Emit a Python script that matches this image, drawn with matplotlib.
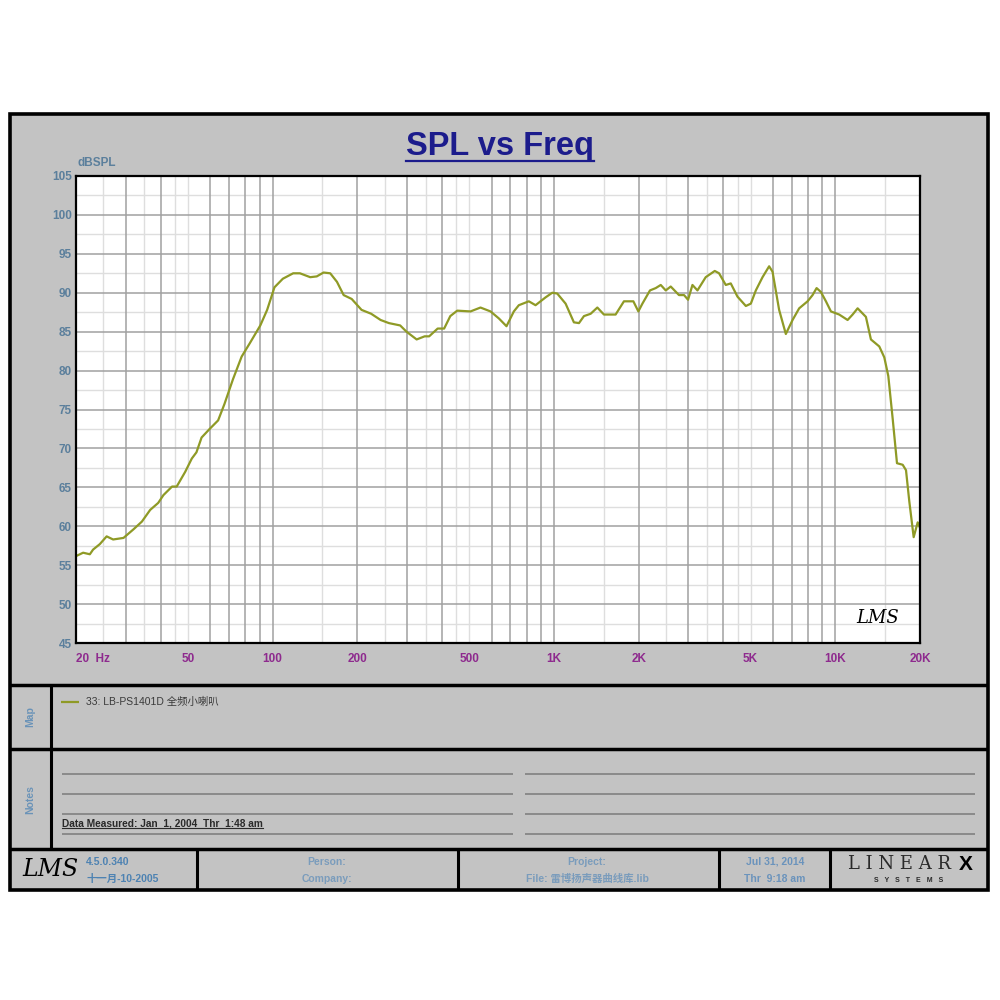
import matplotlib
matplotlib.use('Agg')
import matplotlib.pyplot as plt
from matplotlib.patches import Rectangle
from matplotlib.lines import Line2D

# ---------------- data ----------------
freq_hz = [20.1, 21.2, 22.4, 23.0, 24.3, 25.7, 27.1, 29.5, 32.0, 34.3, 36.7, 39.2, 40.9,
           43.9, 45.6, 48.9, 51.6, 53.6, 55.9, 59.7, 64.0, 67.4, 72.3, 77.6, 82.9, 90.4,
           95.6, 101.5, 108.7, 118.3, 125, 136, 143.5, 151.7, 160.2, 169.3, 178.8, 191,
           207, 224, 242, 259, 284, 299, 325, 347, 360, 386, 407, 428, 453, 505, 548,
           595, 637, 678, 720, 750, 814, 860, 933, 986, 1027, 1100, 1177, 1227, 1278,
           1350, 1426, 1505, 1656, 1773, 1915, 1995, 2062, 2194, 2300, 2396, 2496, 2600,
           2782, 2900, 2996, 3106, 3236, 3462, 3728, 3862, 4080, 4250, 4490, 4808, 5008,
           5218, 5512, 5818, 5982, 6314, 6670, 7048, 7440, 7970, 8302, 8580, 8888, 9260,
           9648, 10324, 11058, 11522, 12004, 12846, 13384, 14332, 14932, 15430, 15994,
           16566, 17358, 17836, 18322, 18990, 19626, 20000]
spl_db = [56.2, 56.6, 56.4, 57.0, 57.7, 58.7, 58.3, 58.5, 59.6, 60.6, 62.1, 63.0, 64.0,
          65.1, 65.1, 67.0, 68.7, 69.5, 71.4, 72.5, 73.6, 75.7, 78.9, 81.8, 83.5, 85.8,
          87.8, 90.7, 91.8, 92.5, 92.5, 92.0, 92.1, 92.6, 92.5, 91.4, 89.7, 89.2,
          87.8, 87.3, 86.5, 86.1, 85.8, 85.0, 84.0, 84.4, 84.4, 85.4, 85.4, 87.0, 87.7,
          87.6, 88.1, 87.6, 86.7, 85.7, 87.6, 88.4, 88.9, 88.4, 89.4, 90.0, 89.9, 88.6,
          86.2, 86.1, 87.0, 87.3, 88.1, 87.2, 87.2, 88.9, 88.9, 87.6, 88.6, 90.3, 90.6,
          91.0, 90.3, 90.8, 89.7, 89.7, 89.1, 91.0, 90.3, 92.0, 92.8, 92.5, 91.0, 91.2,
          89.5, 88.3, 88.6, 90.3, 92.0, 93.4, 92.7, 87.8, 84.7, 86.5, 88.0, 88.9, 89.7,
          90.6, 90.1, 88.9, 87.6, 87.2, 86.5, 87.2, 88.0, 86.9, 84.0, 83.1, 81.7, 79.3,
          73.8, 68.1, 67.9, 67.2, 63.2, 58.6, 60.5, 59.8]

x_tick_values = [20, 50, 100, 200, 500, 1000, 2000, 5000, 10000, 20000]
x_tick_labels = ['20  Hz', '50', '100', '200', '500', '1K', '2K', '5K', '10K', '20K']
y_tick_values = [45, 50, 55, 60, 65, 70, 75, 80, 85, 90, 95, 100, 105]
grid_dark_mults = [1, 2, 3, 4, 6, 7, 8, 9]
grid_light_mults = [1.5, 2.5, 3.5, 4.5, 5]
decades = [10, 100, 1000, 10000]

legend_label = '33: LB-PS1401D 全频小喇叭'
CURVE = '#8f9a26'
SANS = ['Liberation Sans', 'Noto Sans CJK SC', 'DejaVu Sans']

# ---------------- figure ----------------
fig = plt.figure(figsize=(10, 10), dpi=100)
fig.patch.set_facecolor('white')
T = fig.transFigure


def fx(x):
    return x / 1000.0


def fy(y):
    return 1 - y / 1000.0


def rect(x0, y0, x1, y1, fc, ec='none', lw=0, z=0):
    fig.add_artist(Rectangle((fx(x0), fy(y1)), (x1 - x0) / 1000, (y1 - y0) / 1000,
                             transform=T, fc=fc, ec=ec, lw=lw, zorder=z))


def hline(x0, x1, y, color='black', lw=2.5, z=3):
    fig.add_artist(Line2D([fx(x0), fx(x1)], [fy(y), fy(y)], transform=T,
                          color=color, lw=lw, zorder=z, solid_capstyle='butt'))


def vline(x, y0, y1, color='black', lw=2.5, z=3):
    fig.add_artist(Line2D([fx(x), fx(x)], [fy(y0), fy(y1)], transform=T,
                          color=color, lw=lw, zorder=z, solid_capstyle='butt'))


def text(x, y, s, **kw):
    kw.setdefault('family', SANS)
    return fig.text(fx(x), fy(y), s, transform=T, **kw)


# panels
rect(10, 114, 988, 890, '#c3c3c3', z=0)
rect(10, 114, 988, 890, 'none', ec='black', lw=2.6, z=3)
hline(10, 988, 685)
hline(10, 988, 749)
hline(10, 988, 849)
vline(51, 685, 849, lw=2.2)
for xv in [197, 458, 719, 830]:
    vline(xv, 849, 890, lw=2.2)

# title
title = text(500, 147, 'SPL vs Freq', ha='center', va='center', fontsize=23.5,
             fontweight='bold', color='#1c1c8c')

text(78, 163, 'dBSPL', ha='left', va='center', fontsize=8.5, fontweight='bold',
     color='#5b7f9c')

# ---------------- axes ----------------
ax = fig.add_axes([0.076, 0.357, 0.844, 0.467])
ax.set_facecolor('white')
ax.set_xscale('log')
ax.set_xlim(20, 20000)
ax.set_ylim(45, 105)

for d in decades:
    for m in grid_light_mults:
        f = d * m
        if 20 < f < 20000:
            ax.axvline(f, color='#dedede', lw=1.0, zorder=1)
    for m in grid_dark_mults:
        f = d * m
        if 20 < f < 20000:
            ax.axvline(f, color='#a0a0a0', lw=1.1, zorder=1.5)
for v in y_tick_values[1:-1]:
    ax.axhline(v, color='#a0a0a0', lw=1.1, zorder=1.5)
for v in y_tick_values[:-1]:
    ax.axhline(v + 2.5, color='#dedede', lw=1.0, zorder=1)

ax.plot(freq_hz, spl_db, color=CURVE, lw=1.6, zorder=3)

ax.set_xticks(x_tick_values)
ax.set_xticklabels(x_tick_labels)
ax.xaxis.set_minor_locator(matplotlib.ticker.NullLocator())
ax.set_yticks(y_tick_values)
ax.set_yticklabels([str(v) for v in y_tick_values])
ax.tick_params(axis='both', length=0)
ax.tick_params(axis='x', pad=7, labelsize=8.5, labelcolor='#8e2a8e')
ax.tick_params(axis='y', pad=3, labelsize=8.5, labelcolor='#5b7f9c')
for lab in ax.get_xticklabels() + ax.get_yticklabels():
    lab.set_fontweight('bold')
    lab.set_family(SANS)
ax.get_xticklabels()[0].set_horizontalalignment('left')
for s in ax.spines.values():
    s.set_color('black')
    s.set_linewidth(1.6)
    s.set_zorder(4)

ax.text(0.975, 0.035, 'LMS', transform=ax.transAxes, ha='right', va='bottom',
        fontsize=13, style='italic', family='DejaVu Serif', color='black', zorder=5)

# ---------------- map panel ----------------
text(30, 717, 'Map', rotation=90, ha='center', va='center', fontsize=7.5,
     fontweight='bold', color='#6a93b8')
hline(61, 79, 702, color=CURVE, lw=1.6)
text(86, 702, legend_label, ha='left', va='center', fontsize=7.5, color='#3a3a3a')

# ---------------- notes panel ----------------
text(30, 800, 'Notes', rotation=90, ha='center', va='center', fontsize=7.5,
     fontweight='bold', color='#6a93b8')
for yy in [774, 794, 814, 834]:
    hline(62, 513, yy, color='#7a7a7a', lw=1.1)
    hline(525, 975, yy, color='#7a7a7a', lw=1.1)
dm = text(62, 829, 'Data Measured: Jan  1, 2004  Thr  1:48 am', ha='left', va='bottom',
          fontsize=7.3, fontweight='bold', color='#2a2a2a')

# ---------------- footer ----------------
text(22, 870, 'LMS', ha='left', va='center', fontsize=17, style='italic',
     family='DejaVu Serif', color='black')
FC = '#4d82b2'
text(86, 862, '4.5.0.340', ha='left', va='center', fontsize=7.5, fontweight='bold', color=FC)
text(86, 879, '十一月-10-2005', ha='left', va='center', fontsize=7.5, fontweight='bold', color=FC)
text(327, 862, 'Person:', ha='center', va='center', fontsize=7.5, color='#7a9cbc', fontweight='bold')
text(327, 879, 'Company:', ha='center', va='center', fontsize=7.5, color='#7a9cbc', fontweight='bold')
text(587, 862, 'Project:', ha='center', va='center', fontsize=7.5, color='#7a9cbc', fontweight='bold')
text(587, 879, 'File: 雷博扬声器曲线库.lib', ha='center', va='center', fontsize=7.5,
     color='#7a9cbc', fontweight='bold')
text(775, 862, 'Jul 31, 2014', ha='center', va='center', fontsize=7.5, color='#6a93bc', fontweight='bold')
text(775, 879, 'Thr  9:18 am', ha='center', va='center', fontsize=7.5, color='#6a93bc', fontweight='bold')
text(900, 864, 'L I N E A R', ha='center', va='center', fontsize=13, family='DejaVu Serif',
     color='#2a2a2a')
text(966, 864, 'X', ha='center', va='center', fontsize=15, fontweight='bold', color='black')
text(909, 881, 'S   Y   S   T   E   M   S', ha='center', va='center', fontsize=5,
     fontweight='bold', color='#2a2a2a')

# underlines from measured text extents
fig.canvas.draw()
r = fig.canvas.get_renderer()
inv = T.inverted()
for t, col, off, lw in [(title, '#1c1c8c', 1.5, 1.6), (dm, '#2a2a2a', 1.0, 0.8)]:
    bb = t.get_window_extent(r)
    (x0, y0), (x1, y1) = inv.transform([[bb.x0, bb.y0], [bb.x1, bb.y1]])
    fig.add_artist(Line2D([x0, x1], [y0 + off / 1000, y0 + off / 1000], transform=T,
                          color=col, lw=lw, zorder=4))

fig.savefig('out.png', dpi=100)
